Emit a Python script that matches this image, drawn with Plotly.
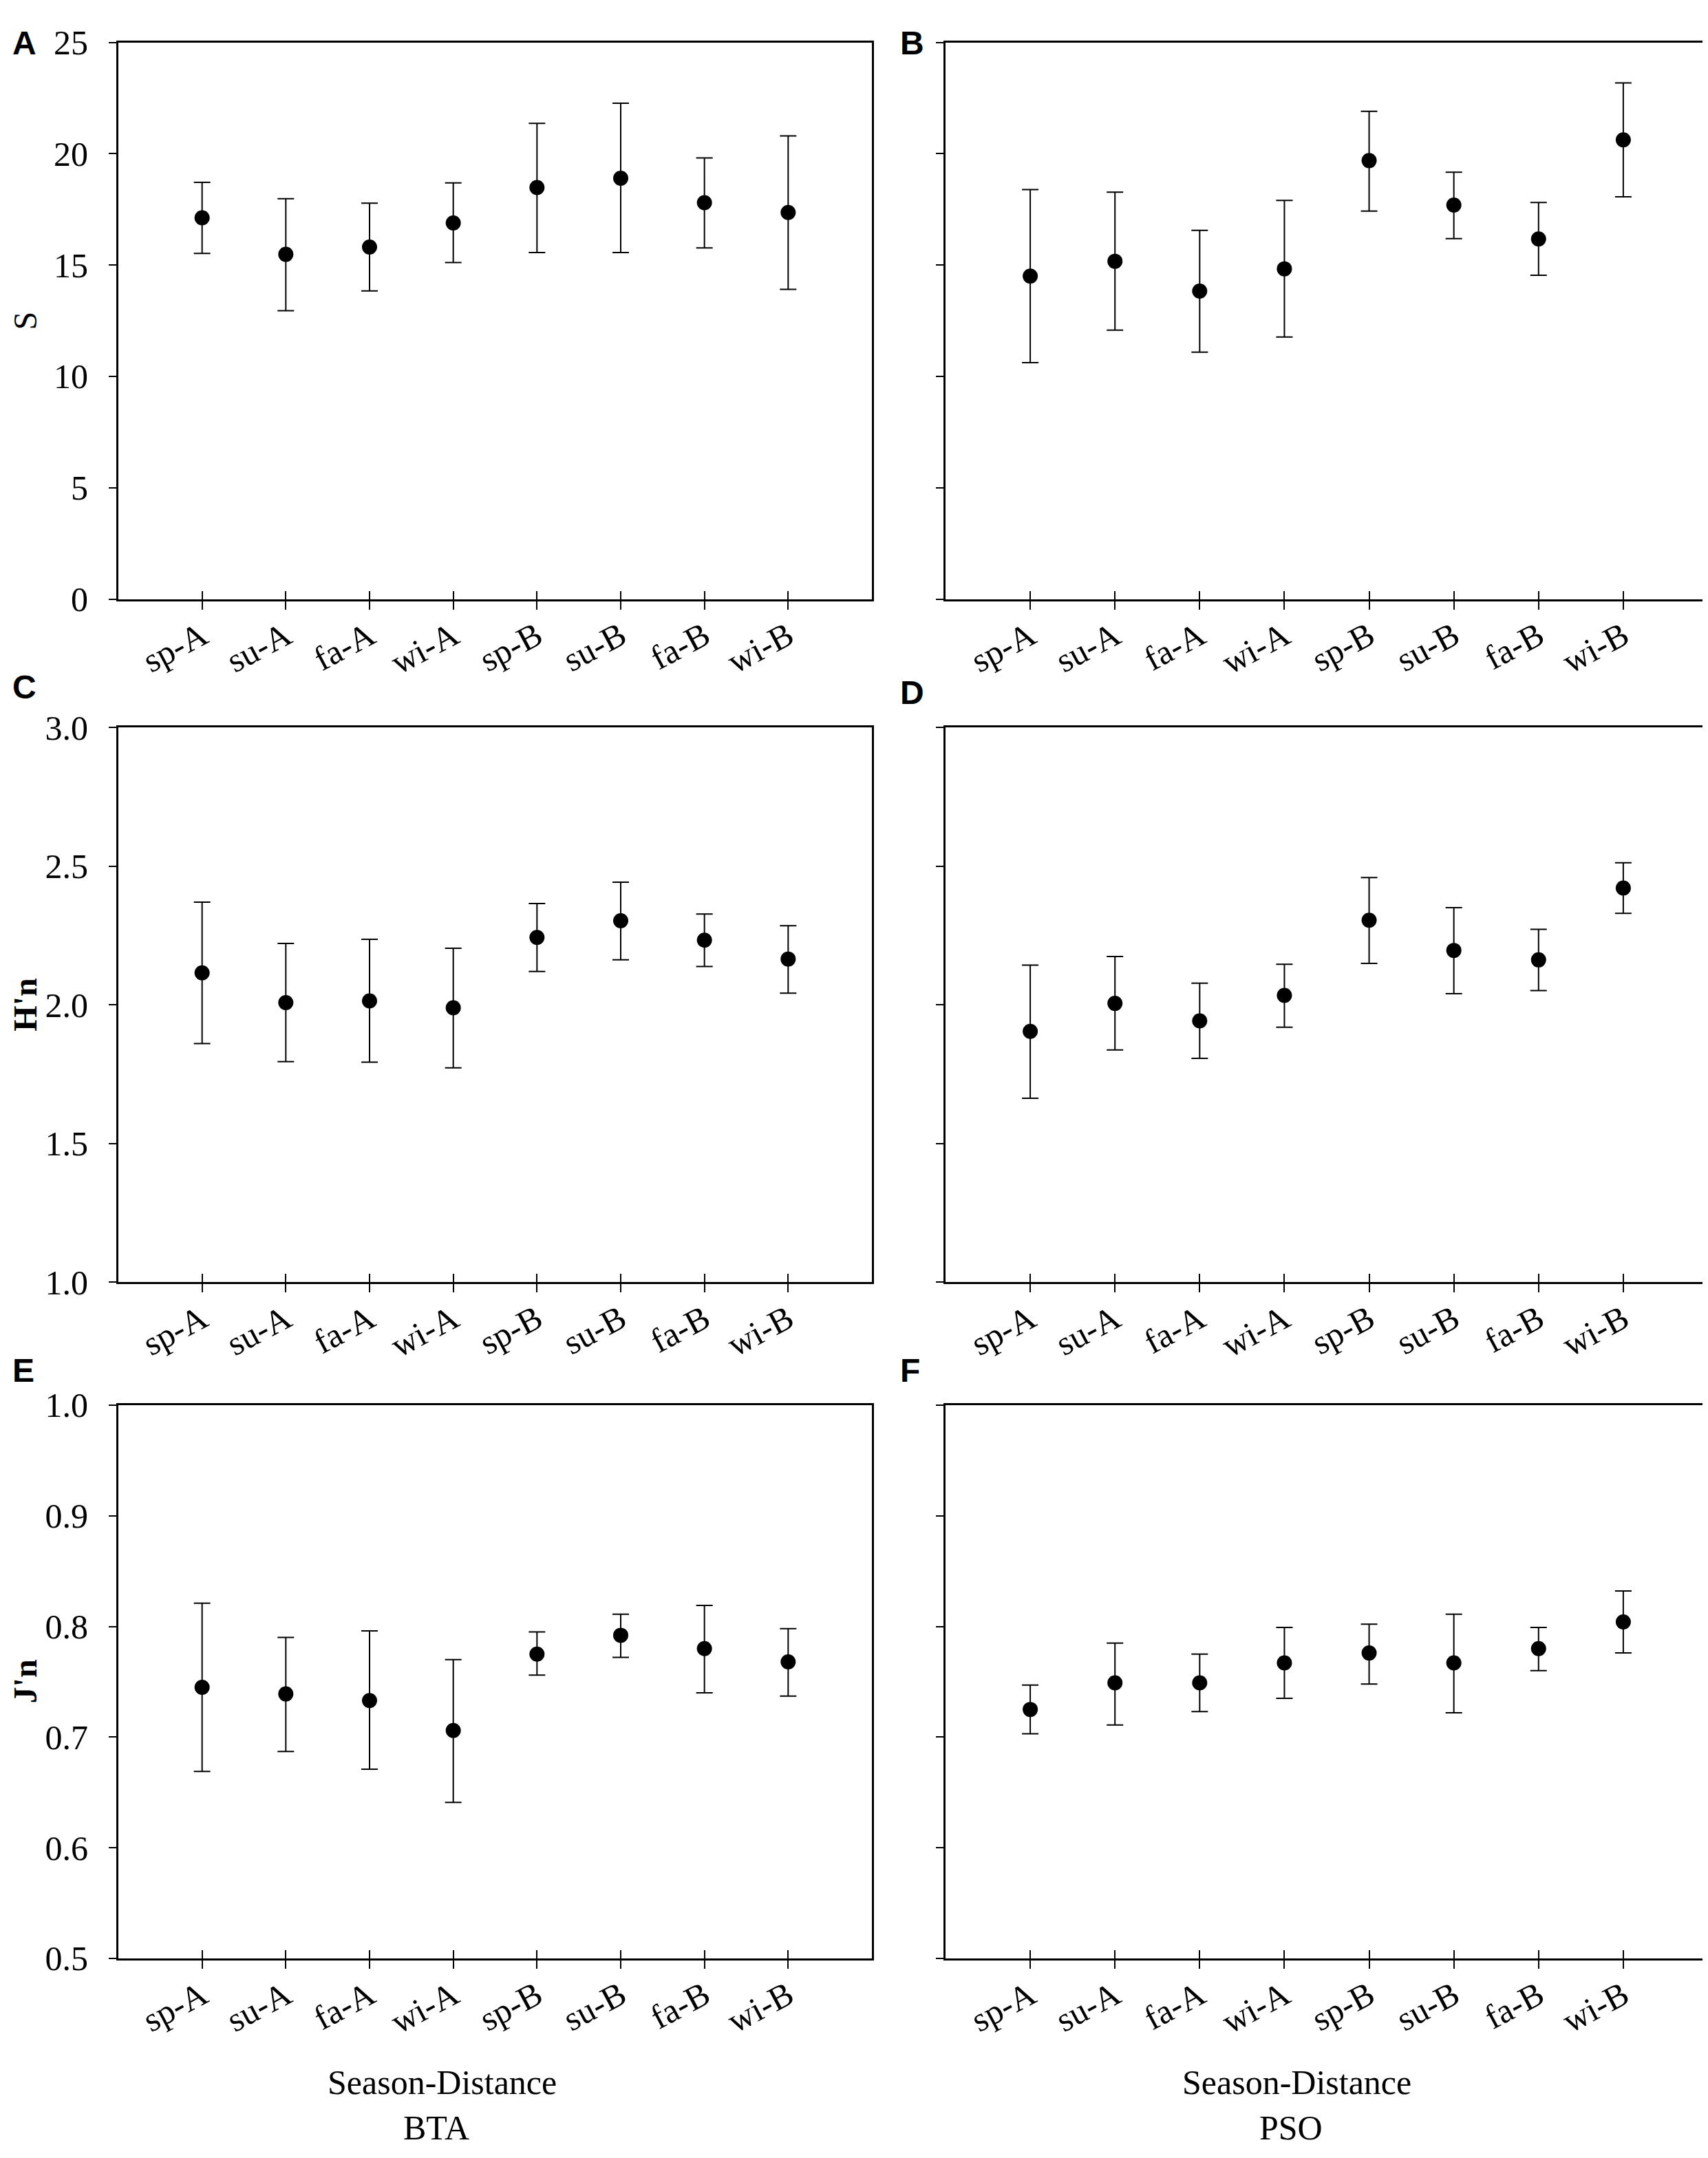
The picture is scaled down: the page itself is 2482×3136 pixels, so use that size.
import plotly.graph_objects as go

W, H = 2482, 3136

cats = ["sp-A", "su-A", "fa-A", "wi-A", "sp-B", "su-B", "fa-B", "wi-B"]

# Panel A: S, BTA
S_BTA_mean = [17.12, 15.48, 15.81, 16.89, 18.48, 18.90, 17.80, 17.36]
S_BTA_upper = [18.71, 17.98, 17.78, 18.69, 21.36, 22.27, 19.81, 20.80]
S_BTA_lower = [15.52, 12.95, 13.84, 15.11, 15.56, 15.56, 15.77, 13.91]
# Panel B: S, PSO
S_PSO_mean = [14.50, 15.17, 13.83, 14.83, 19.69, 17.69, 16.17, 20.62]
S_PSO_upper = [18.39, 18.27, 16.56, 17.90, 21.90, 19.17, 17.81, 23.18]
S_PSO_lower = [10.62, 12.08, 11.09, 11.77, 17.42, 16.19, 14.54, 18.06]
# Panel C: H'n, BTA
H_BTA_mean = [2.115, 2.008, 2.014, 1.989, 2.243, 2.303, 2.233, 2.165]
H_BTA_upper = [2.370, 2.221, 2.236, 2.204, 2.365, 2.442, 2.327, 2.285]
H_BTA_lower = [1.860, 1.795, 1.793, 1.773, 2.120, 2.162, 2.138, 2.042]
# Panel D: H'n, PSO
H_PSO_mean = [1.904, 2.005, 1.942, 2.034, 2.305, 2.196, 2.162, 2.421]
H_PSO_upper = [2.143, 2.174, 2.078, 2.146, 2.459, 2.350, 2.272, 2.512]
H_PSO_lower = [1.663, 1.837, 1.807, 1.919, 2.149, 2.040, 2.051, 2.330]
# Panel E: J'n, BTA
J_BTA_mean = [0.745, 0.739, 0.733, 0.706, 0.775, 0.792, 0.780, 0.768]
J_BTA_upper = [0.821, 0.790, 0.796, 0.770, 0.795, 0.811, 0.819, 0.798]
J_BTA_lower = [0.669, 0.687, 0.671, 0.641, 0.756, 0.772, 0.740, 0.737]
# Panel F: J'n, PSO
J_PSO_mean = [0.725, 0.749, 0.749, 0.767, 0.776, 0.767, 0.780, 0.804]
J_PSO_upper = [0.747, 0.785, 0.775, 0.799, 0.802, 0.811, 0.799, 0.832]
J_PSO_lower = [0.703, 0.711, 0.723, 0.735, 0.748, 0.722, 0.760, 0.776]

y_ranges = [[0, 25], [1.0, 3.0], [0.5, 1.0]]
y_dticks = [5, 0.5, 0.1]
y_formats = ["d", ".1f", ".1f"]
y_titles = ["S", "<b>H'n</b>", "<b>J'n</b>"]
letters = ["A", "B", "C", "D", "E", "F"]
x_title = "Season-Distance"
site_titles = ["BTA", "PSO"]

panels = [
    (S_BTA_mean, S_BTA_upper, S_BTA_lower),
    (S_PSO_mean, S_PSO_upper, S_PSO_lower),
    (H_BTA_mean, H_BTA_upper, H_BTA_lower),
    (H_PSO_mean, H_PSO_upper, H_PSO_lower),
    (J_BTA_mean, J_BTA_upper, J_BTA_lower),
    (J_PSO_mean, J_PSO_upper, J_PSO_lower),
]

SERIF = "Liberation Serif"
SANS = "Liberation Sans"

x_px = [(164, 1259), (1366, 2474)]
y_px = [(26, 850), (1040, 1861), (2043, 2862)]
letter_px = [(27, 27), (980, 988), (1992, 1992)]
letter_x = [8, 1298]
title_cx = [634, 1876]

fig = go.Figure()
layout = dict(
    width=W, height=H,
    margin=dict(l=0, r=0, t=0, b=0),
    paper_bgcolor="white", plot_bgcolor="white",
    showlegend=False,
)
annotations = []

for k, (mean, upper, lower) in enumerate(panels):
    row, col = divmod(k, 2)
    i = k + 1
    j = k + 7
    xs = "" if i == 1 else str(i)
    ep = [u - m for u, m in zip(upper, mean)]
    em = [m - l for m, l in zip(mean, lower)]
    fig.add_trace(go.Scatter(
        x=cats, y=mean, mode="markers",
        marker=dict(color="black", size=22),
        error_y=dict(type="data", symmetric=False, array=ep, arrayminus=em,
                     color="black", thickness=2, width=12),
        xaxis="x" + xs, yaxis="y" + xs, hoverinfo="skip",
    ))
    # dummy trace for overlay axis that draws inner half of x ticks
    fig.add_trace(go.Scatter(
        x=cats, y=[None] * len(cats), mode="markers",
        xaxis="x" + str(j), yaxis="y" + xs, hoverinfo="skip",
    ))
    xd = [x_px[col][0] / W, x_px[col][1] / W]
    yd = [1 - y_px[row][1] / H, 1 - y_px[row][0] / H]
    layout["xaxis" + xs] = dict(
        domain=xd, anchor="y" + xs, type="category",
        categoryorder="array", categoryarray=cats, range=[-1, 8],
        showline=True, linecolor="black", linewidth=3, mirror=True,
        ticks="outside", ticklen=12, tickwidth=2, tickcolor="black",
        tickangle=-28, tickfont=dict(family=SERIF, size=50, color="black"),
        showgrid=False, zeroline=False, ticklabelstandoff=-10,
    )
    layout["xaxis" + str(j)] = dict(
        overlaying="x" + xs, anchor="y" + xs, type="category",
        categoryorder="array", categoryarray=cats, range=[-1, 8],
        showline=False, ticks="inside", ticklen=12, tickwidth=2,
        tickcolor="black", showticklabels=False, showgrid=False, zeroline=False,
    )
    layout["yaxis" + xs] = dict(
        domain=yd, anchor="x" + xs, range=y_ranges[row], dtick=y_dticks[row],
        tick0=y_ranges[row][0], tickformat=y_formats[row],
        showline=True, linecolor="black", linewidth=3, mirror=True,
        ticks="outside", ticklen=11, tickwidth=2, tickcolor="black",
        showticklabels=(col == 0),
        tickfont=dict(family=SERIF, size=50, color="black"),
        showgrid=False, zeroline=False, ticklabelstandoff=20,
    )
    # panel letter
    annotations.append(dict(
        text="<b>%s</b>" % letters[k], xref="paper", yref="paper",
        x=letter_x[col] / W, y=1 - letter_px[row][col] / H,
        xanchor="left", yanchor="middle", showarrow=False,
        font=dict(family=SANS, size=48, color="black"),
    ))

# y titles
for row in range(3):
    cy = (y_px[row][0] + y_px[row][1]) / 2
    annotations.append(dict(
        text=y_titles[row], xref="paper", yref="paper",
        x=0, y=1 - cy / H, xanchor="left", yanchor="middle",
        textangle=-90, showarrow=False,
        font=dict(family=SERIF, size=48, color="black"),
    ))

# x titles
for col in range(2):
    annotations.append(dict(
        text=x_title, xref="paper", yref="paper",
        x=title_cx[col] / W, y=1 - 3045 / H, xanchor="center", yanchor="middle",
        showarrow=False, font=dict(family=SERIF, size=50, color="black"),
    ))
    annotations.append(dict(
        text=site_titles[col], xref="paper", yref="paper",
        x=(title_cx[col] - 8) / W, y=1 - 3113 / H, xanchor="center", yanchor="middle",
        showarrow=False, font=dict(family=SERIF, size=50, color="black"),
    ))

layout["annotations"] = annotations
fig.update_layout(**layout)
fig.write_html("out.html")
